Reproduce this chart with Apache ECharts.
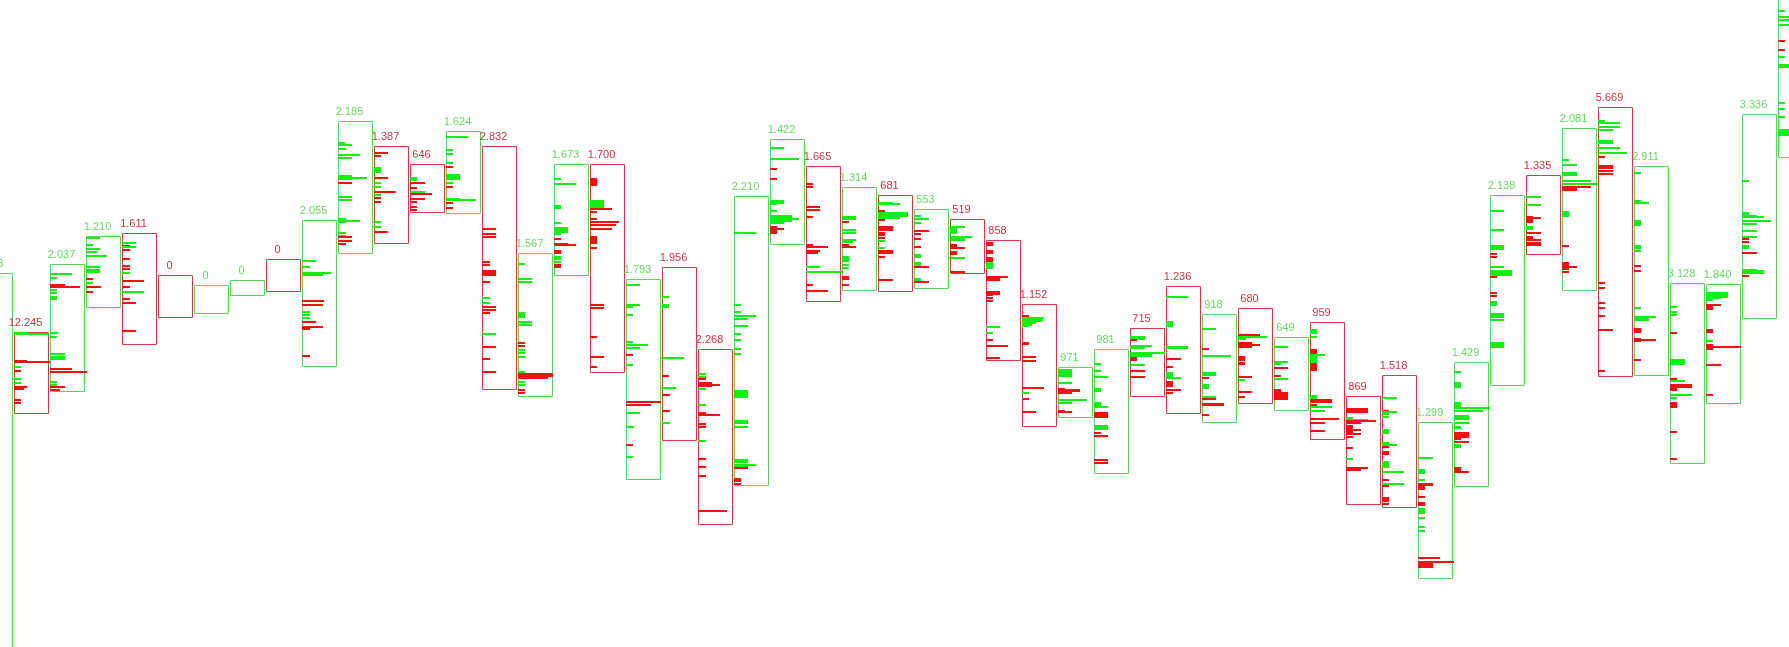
<!DOCTYPE html>
<html><head><meta charset="utf-8">
<script src="https://cdn.jsdelivr.net/npm/echarts@6/dist/echarts.min.js"></script>
<style>html,body{margin:0;padding:0;background:#fff}#c{width:1789px;height:647px}</style>
</head><body><div id="c"></div>
<script>
// Volume label per candle (European thousands separator)
const labels=["2.148","12.245","2.037","1.210","1.611","0","0","0","0","2.055","2.185","1.387","646","1.624","2.832","1.567","1.673","1.700","1.793","1.956","2.268","2.210","1.422","1.665","1.314","681","553","519","858","1.152","971","981","715","1.236","918","680","649","959","869","1.518","1.299","1.429","2.138","1.335","2.081","5.669","2.911","3.128","1.840","3.336","4.120"];
// candle high / low prices
const highs=[187,157.5,191.5,205.5,207,186,181,183.5,194,213.5,263,250.5,241.5,258,250.5,197,241.5,241.5,184,190,149,225.5,254,240.5,230,226,219,214,203.5,171.5,140,149,159.5,180.5,166.5,169.5,155,162.5,125.5,136,112.5,142.5,226,236,259.5,270,240.5,182,181.5,266.5,340];
const lows=[-10,117,128,170,151.5,165,167,176,178,140.5,197,202,217.5,217,129,125.5,186,137.5,84,103.5,61.5,81,201.5,173,178.5,178,179.5,187,143.5,110.5,115,87,125.5,117,112.5,122,118.5,104,71.5,70,34.5,80.5,131,196.5,178.5,135.5,136,92,122,164.5,245];
// 1 = up (green), 0 = down (red)
const dirs=[1,0,1,1,0,0,1,1,0,1,1,0,0,1,0,1,1,0,1,0,0,1,1,0,1,0,1,0,0,0,1,1,0,0,1,0,1,0,0,0,1,1,1,0,1,0,1,1,1,1,1];
// volume profile per candle: [price, volume, side(1 buy/green, 0 sell/red)]
const profiles=[
[],
[[156.5,35,1],[157,14,1],[142.5,36,0],[143,13,0],[140,7,1],[138,7,0],[134,7,1],[132,7,1],[130,13,0],[129,10,0],[123.5,7,0],[122,7,0]],
[[186.5,22,1],[184.3,7,1],[181,15,0],[180,30,0],[178.5,7,1],[177,7,1],[175,7,1],[174,7,1],[157,8,1],[155,7,1],[146.5,15,1],[145,15,1],[144,15,1],[139,22,0],[137.5,37,0],[132.5,7,1],[131,7,1],[130,15,0],[128.5,10,0]],
[[204.5,14,1],[201,7,1],[199,14,1],[197.5,11,1],[195.5,21,1],[190,14,1],[188.5,14,1],[187.5,14,1],[184,7,0],[182,7,1],[180,15,0],[177.5,7,0]],
[[202,14,1],[200.5,8,0],[200,14,1],[198.5,8,0],[194,8,0],[190.5,8,0],[189,8,0],[187,8,1],[183,22,0],[180,8,0],[177.5,22,1],[174,8,0],[172,14,0],[158,14,0]],
[],[],[],[],
[[193,14,1],[190,8,1],[187,29,1],[186,21,1],[173,22,0],[171,21,0],[167.5,8,1],[166,8,1],[164.5,8,1],[162.5,14,0],[160,21,0],[159,8,0],[145.5,8,0]],
[[252,7,1],[251,14,1],[249,8,1],[246,22,1],[244.5,14,1],[235.5,14,1],[234.5,29,1],[234,14,1],[232,14,0],[225,14,1],[223.5,14,1],[214,8,1],[213,22,1],[212.5,8,1],[207,8,1],[205.5,8,1],[205,14,0],[203,14,0],[201.5,8,0]],
[[247,14,0],[245.5,7,0],[239.5,7,1],[238.5,7,1],[237.5,7,1],[234.5,14,0],[232,7,1],[230,7,1],[227.5,22,0],[226,7,1],[224.5,7,0],[222.5,7,0],[212.5,7,1],[210,7,1],[207.5,14,0]],
[[234.5,7,1],[233.5,7,1],[232,15,0],[229.5,7,0],[227.5,15,1],[226.5,22,0],[224,15,0],[222.5,7,0],[220,7,0],[218.5,7,0]],
[[255,22,1],[248.5,7,1],[246.5,7,1],[242,7,1],[240,7,0],[236,14,1],[235,14,1],[234,14,1],[232,7,1],[230,7,0],[224,14,1],[223.5,30,1],[222,7,0],[219.5,7,0]],
[[209,14,0],[206.5,14,0],[205,14,0],[192.5,8,0],[191,8,0],[188,14,0],[187,14,0],[186,14,0],[182.5,8,0],[174.5,8,1],[172,8,1],[170,14,0],[168.5,14,0],[167,8,0],[156.5,14,1],[150,14,0],[144,8,0],[137.5,14,0]],
[[191.5,7,1],[184,14,1],[182.5,14,1],[167,7,1],[166,7,1],[165,7,1],[162.5,14,1],[161,14,1],[152,7,0],[150.5,7,0],[148.5,7,1],[147,7,1],[145,7,1],[137.5,7,1],[136.5,35,0],[135.5,35,0],[134.5,30,0],[132.5,7,1],[131,7,1],[128.5,7,0],[127,7,0]],
[[234,7,1],[231.5,22,1],[220.5,7,1],[219.5,7,1],[212,7,1],[209.5,14,1],[208.5,14,1],[207.5,14,1],[206.5,7,1],[204,7,0],[201.5,14,0],[201,22,0],[198,7,0],[197,7,0],[195,7,1],[194,7,1],[192.5,7,1],[191,7,0],[190,7,0]],
[[234,7,0],[233,7,0],[232,7,0],[231,7,0],[223,14,1],[222,14,1],[221,14,1],[220,14,1],[219,22,0],[217.5,7,0],[214,7,0],[212.5,29,0],[211,26,0],[209,22,0],[205,7,0],[204,7,0],[203,7,0],[202,7,0],[199.5,7,0],[171,14,0],[169.5,14,0],[155,7,0],[145,14,0],[140,7,0]],
[[181,14,1],[171,14,1],[170,7,1],[166,7,1],[152.5,7,1],[151,22,1],[149.5,14,1],[146,7,0],[141,7,1],[122.5,35,0],[121,25,0],[117,14,1],[110,8,1],[101,7,0],[95,7,1]],
[[175,7,1],[171,7,1],[170,7,1],[144.5,22,1],[135.5,7,0],[129.5,14,1],[126,8,0],[118,8,0],[112,8,1]],
[[136.5,8,1],[135,8,1],[134,8,0],[132,14,0],[131,22,0],[130.5,14,0],[129,8,1],[121,8,1],[117,8,0],[116,22,0],[111.5,8,0],[110,8,0],[103,8,1],[94,8,0],[90,8,0],[85.5,8,0],[68,29,0]],
[[207,22,1],[171,7,1],[167.5,7,1],[165.5,22,1],[164,14,1],[160.5,14,1],[156.5,7,1],[153.5,7,1],[149,7,1],[146.5,7,1],[128,14,1],[127,14,1],[126,14,1],[125,14,1],[113,14,1],[112,14,1],[110,14,1],[93.5,14,1],[92.5,14,1],[91,22,1],[90.5,14,1],[89.5,14,0],[84,7,0],[83,7,0],[81.5,7,0]],
[[249.5,14,1],[244,29,1],[239,7,0],[234,7,0],[223,14,1],[222,14,1],[221.5,7,1],[218,7,1],[215.5,22,1],[215,22,1],[214,29,1],[213,22,1],[212,14,1],[210,7,0],[209,14,0],[208,7,0],[207,7,0]],
[[231.5,7,0],[230,7,0],[220,14,0],[218.5,14,0],[215,7,0],[201,7,0],[200,22,0],[198,14,0],[197,12,0],[190,14,1],[187.5,36,1],[181,7,0],[178,22,0]],
[[215,14,1],[214,14,1],[212.5,7,0],[208.5,14,1],[207,14,1],[203.5,14,1],[202.5,11,1],[201,7,0],[200,14,0],[195,7,1],[194,7,1],[193,7,1],[191,7,1],[189.5,7,1],[185,7,0],[184,7,0],[181,7,0]],
[[222,15,1],[221.5,22,1],[218,7,0],[217,30,1],[216,30,1],[215.5,30,1],[214.5,22,1],[213.5,7,0],[210,15,0],[209,15,0],[208.5,15,0],[207,7,0],[206,7,0],[204.5,7,0],[203,7,1],[199.5,7,1],[198,15,0],[197,15,0],[195,7,0],[183.5,15,0]],
[[215.5,7,1],[214,15,1],[212,7,1],[208,15,0],[206.5,7,0],[204,7,0],[200,7,0],[196,7,1],[195,7,1],[192,7,1],[191,7,1],[190,15,0],[184,7,1],[183,7,1],[182.5,15,0]],
[[210,15,1],[209,7,1],[208,7,1],[207,7,1],[205,22,1],[204,15,1],[203.5,15,1],[201,7,0],[200,7,0],[199.5,15,0],[197.5,7,0],[196.5,7,0],[194.5,15,1],[187.5,15,0]],
[[202,7,0],[201,7,0],[198,7,0],[197,7,0],[194.5,7,0],[193.5,7,0],[192.5,7,0],[192,7,1],[191,7,1],[190,7,1],[189.5,7,1],[185,22,0],[184,14,0],[183.5,14,0],[177.5,14,0],[176.5,14,0],[176,7,0],[174.5,7,0],[173,7,0],[160,14,1],[157,7,1],[153.5,7,0],[150.5,22,0],[144.5,14,0]],
[[165.5,7,0],[164.5,22,1],[163.5,21,1],[163,20,1],[162,14,1],[161,10,1],[160.5,7,1],[152,7,0],[151.5,7,0],[145,14,0],[143,14,0],[129.5,22,0],[127,7,1],[124,7,0],[117.5,14,0]],
[[138.5,14,1],[137.5,14,1],[137,14,1],[136,14,1],[135.5,14,1],[132,14,1],[129,7,0],[128.5,22,0],[128,22,0],[127,14,0],[123.5,29,1],[122,14,1],[118,7,0],[117.5,14,0]],
[[141.5,7,1],[138,7,1],[135,14,1],[129,7,1],[128,7,1],[122,7,1],[121,7,1],[120,14,1],[117,14,0],[116,14,0],[115,14,0],[110.5,14,1],[109.5,14,1],[109,14,1],[107,7,0],[105.5,14,0],[93.5,14,0],[92,14,0]],
[[155,15,1],[154,15,1],[153.5,7,0],[150.5,22,1],[149.5,15,1],[147,35,1],[146,22,1],[145.5,22,1],[144.5,7,0],[143.5,7,0],[141,15,1],[138,15,0],[135,15,0]],
[[175,22,1],[162.5,7,1],[161.5,7,1],[160.5,7,1],[150,22,1],[149.5,22,1],[144,15,0],[140,7,0],[137,7,1],[136,7,1],[135.5,7,1],[134.5,15,1],[132.5,7,0],[131.5,7,0],[130.5,7,0],[128.5,15,0],[127,7,0]],
[[159,14,1],[149,7,0],[145.5,29,1],[137,14,1],[136,14,1],[134.5,7,0],[131,7,1],[130,7,1],[129.5,7,1],[125,14,1],[124,14,0],[121.5,22,0],[121,22,0],[116,7,0]],
[[156,22,0],[155,29,1],[154,8,1],[152,14,0],[151,22,0],[150,14,0],[145,7,0],[144,7,0],[143.5,7,0],[142,7,0],[141.5,7,0],[135,14,0],[133.5,7,1],[127.5,14,0],[125,7,0]],
[[150,14,1],[142.5,14,1],[141.5,7,1],[139.5,14,0],[135.5,7,0],[134,14,1],[128.5,7,0],[127.5,7,0],[127,14,0],[126,14,0],[125,14,0],[124,14,0]],
[[158.5,7,1],[157.5,7,1],[157,7,1],[155,7,1],[148.5,7,0],[147.5,7,0],[147,7,0],[146,15,1],[145,7,1],[144,7,1],[143,7,1],[142.5,7,1],[141.5,7,0],[140.5,7,0],[139.5,7,0],[138.5,7,0],[125.5,7,1],[124.5,7,1],[123.5,22,0],[122.5,22,0],[121,7,0],[120,22,1],[118,15,1],[114,29,0],[112,15,0],[108,15,0]],
[[119,22,0],[118,22,0],[117.5,22,0],[114.5,7,1],[113.5,22,1],[113,30,0],[112,15,0],[110.5,7,0],[109.5,7,0],[108.5,15,0],[107.5,7,0],[106.5,15,0],[105,7,0],[99.5,7,0],[94,7,1],[89.5,22,0],[88.5,15,0]],
[[124.5,15,1],[118,7,0],[117.5,15,1],[116.5,7,1],[115,7,1],[108.5,7,1],[107.5,7,1],[107,7,1],[102,7,1],[101,15,1],[100,7,0],[97.5,7,0],[96.5,7,0],[92.5,7,1],[91.5,7,1],[90.5,7,1],[90,7,1],[87.5,22,1],[83.5,7,0],[81.5,22,1],[80.5,7,0],[74.5,7,0],[73.5,7,0],[73,7,0],[71.5,7,0]],
[[94.5,15,1],[88.5,7,1],[87.5,7,1],[87,7,1],[83.5,7,1],[81.5,15,0],[81,15,0],[80,7,0],[79,7,0],[75,7,0],[72,7,0],[71,7,0],[69,7,1],[68,7,1],[67,7,1],[64.5,7,1],[60,7,1],[58,7,1],[44.5,22,0],[42.5,36,0],[41.5,15,0],[40.5,15,0],[40,15,0]],
[[137.5,7,1],[132,7,1],[131,7,1],[130,7,1],[122,7,1],[121,7,1],[120.5,7,1],[119.5,36,1],[118,29,1],[115.5,15,1],[114.5,15,1],[114,15,1],[112,15,1],[110,7,1],[109.5,7,1],[107,15,0],[106,15,0],[105,15,0],[104,7,0],[102.5,15,0],[101,7,1],[100,7,1],[89.5,7,0],[88.5,7,0],[87.5,15,0]],
[[218,14,1],[208.5,14,1],[200.5,14,1],[199.5,14,1],[199,14,1],[196.5,7,0],[195,7,0],[190,14,1],[188,22,1],[187,22,1],[186,22,1],[185,7,0],[177,7,0],[175.5,7,0],[172.5,7,1],[171.5,7,1],[171,7,1],[166.5,14,1],[165.5,14,1],[165,14,1],[163.5,14,1],[152,14,1],[151,14,1],[150,14,1]],
[[225,15,1],[221,15,1],[215,7,0],[214.5,15,0],[213.5,7,0],[212.5,7,0],[210,7,1],[209,7,1],[207,15,0],[205,7,0],[204,7,0],[203.5,15,0],[202,15,0],[201,15,0]],
[[243.5,7,1],[241,15,1],[237,15,1],[236,15,1],[233,29,1],[231.5,36,1],[230,29,0],[229,15,0],[228.5,15,0],[217.5,7,1],[216.5,7,1],[215.5,7,1],[200.5,7,0],[192,7,0],[191,7,0],[190,15,0],[189,7,0],[187.5,7,0]],
[[263,7,1],[262,22,1],[260,22,1],[258.5,15,1],[253,15,1],[252,15,1],[249.5,22,1],[247,29,1],[245,7,0],[240.5,15,0],[239.5,15,0],[238,15,0],[236.5,15,0],[182,7,0],[179.5,7,0],[172,7,0],[169.5,7,0],[165.5,7,0],[158.5,15,0],[138,7,0]],
[[237,7,1],[223,7,1],[222,15,1],[213,7,1],[212,7,1],[211,7,1],[200.5,7,1],[199.5,7,1],[198,7,1],[190.5,7,0],[188,7,0],[169.5,7,1],[165,22,1],[164,15,1],[163.5,15,1],[159,7,0],[158,7,0],[157.5,7,0],[154,7,0],[153.5,22,0],[153,7,0],[143.5,7,0]],
[[170,7,1],[167.5,7,1],[166,7,1],[157,7,0],[143.5,15,1],[142.5,15,1],[141.5,15,1],[134,7,0],[133,15,1],[131,22,0],[130,22,0],[129,7,0],[128.5,7,0],[126,22,1],[124.5,7,1],[122,7,0],[121,7,0],[120,7,0],[107.5,7,0],[94,7,0]],
[[177,22,1],[176,22,1],[175,22,1],[174.5,15,1],[173.5,7,1],[171,15,0],[170,7,0],[169,7,0],[158.5,7,0],[157.5,7,0],[153,7,1],[151,7,0],[150,35,0],[149,7,0],[141,15,0],[126,7,0]],
[[233,7,1],[217,7,1],[216,7,1],[215.5,15,1],[215,22,1],[213,29,1],[211.5,15,1],[208,15,1],[205,15,1],[204,7,0],[202.5,7,0],[200.5,7,1],[199.5,7,1],[197,15,0],[188.5,15,1],[188,22,1],[187,22,1],[185.5,7,0]],
[[318,7,1],[315,15,1],[313.5,15,1],[311,15,1],[303,7,0],[298.5,7,0],[295,7,1],[291,15,1],[290,15,1],[272,7,1],[269,7,1],[265,7,1],[258.5,15,1],[257.5,15,1],[257,15,1],[256,15,1]]
];

const GREEN_BOX='#5ad75a', RED_BOX='#d23c46', GREEN_TXT='#62d862', RED_TXT='#cc3344';
const GREEN_BAR='#14ee14', RED_BAR='#ee1212';
const VOL_PX=1;   // px per volume unit
const HALF_W=17;  // half box width in px

const boxData=labels.map((l,i)=>[i,highs[i],lows[i],dirs[i]]);
const barData=[];
profiles.forEach((pr,i)=>pr.forEach(b=>barData.push([i,b[0],b[1],b[2]])));

const chart=echarts.init(document.getElementById('c'),null,{renderer:'canvas'});
chart.setOption({
  animation:false,
  backgroundColor:'#ffffff',
  grid:{left:0,right:0,top:0,bottom:0},
  xAxis:{type:'value',min:5/36,max:1794/36,show:false},
  yAxis:{type:'value',min:0,max:323.5,show:false},
  series:[
    {
      type:'custom',
      data:boxData,
      encode:{x:0,y:[1,2]},
      renderItem:function(params,api){
        const i=api.value(0),hi=api.value(1),lo=api.value(2),d=api.value(3);
        const t=api.coord([i,hi]),b=api.coord([i,lo]);
        const cx=t[0];
        const left=Math.round(cx-HALF_W)+0.5,right=Math.round(cx+HALF_W)+0.5;
        const y1=Math.round(t[1])+0.5,y2=Math.round(b[1])+0.5;
        const col=d?GREEN_BOX:RED_BOX;
        return {type:'group',children:[
          {type:'rect',shape:{x:left,y:y1,width:right-left,height:y2-y1},style:{fill:'none',stroke:col,lineWidth:1}},
          {type:'text',x:cx-5.5,y:y1-4,style:{text:labels[i],fill:d?GREEN_TXT:RED_TXT,font:'11px "Liberation Sans", Arial, sans-serif',align:'center',verticalAlign:'bottom'}}
        ]};
      }
    },
    {
      type:'custom',
      data:barData,
      encode:{x:0,y:1},
      renderItem:function(params,api){
        const i=api.value(0),p=api.value(1),v=api.value(2),s=api.value(3);
        const c=api.coord([i,p]);
        const left=Math.round(c[0]-HALF_W);
        const yc=Math.round(c[1]);
        return {type:'rect',shape:{x:left,y:yc-1,width:v*VOL_PX,height:2},style:{fill:s?GREEN_BAR:RED_BAR}};
      }
    }
  ]
});
</script>
</body></html>
